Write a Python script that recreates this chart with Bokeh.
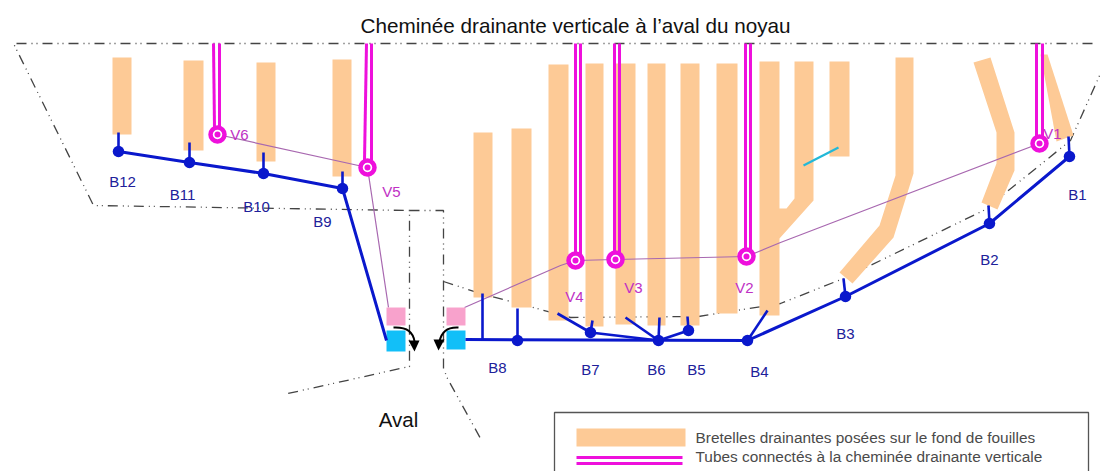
from bokeh.plotting import figure
from bokeh.embed import file_html
from bokeh.resources import INLINE
from bokeh.core.properties import value
from bokeh.models import Range1d

TITLE = "Cheminée drainante verticale à l’aval du noyau"
ORANGE = "#fdca96"
MAGENTA = "#ee10dc"
BLUE = "#0a18cc"
MAUVE = "#a868b0"
LABEL_BLUE = "#20209a"
LABEL_MAG = "#c030c4"
DD = "10 5 1 4 1 5"

# straight drains: x0, x1, top, bottom
bars_x0 = [112, 183, 256, 332, 473, 511, 548, 585, 615, 647, 680, 716, 829]
bars_x1 = [131, 203, 275, 351, 492, 531, 568, 603, 635, 665, 699, 737, 849]
bars_top = [57, 60, 62, 59, 132, 128, 64, 63, 63, 63, 63, 63, 61]
bars_bot = [134, 150, 161, 176, 297, 307, 320, 326, 324, 325, 325, 313, 156]

# bent drains
bent_x = [
    [759, 779, 779, 786, 794, 794, 813, 813, 779, 779, 759],
    [895, 913, 913, 893, 852, 839, 879, 895],
    [973, 990, 1014, 1014, 997, 981, 996, 996],
    [1040, 1047, 1073, 1056],
]
bent_y = [
    [61, 61, 208, 208, 198, 61, 61, 200, 238, 315, 315],
    [57, 57, 173, 237, 283, 272, 225, 175],
    [62, 57, 132, 170, 209, 202, 163, 132],
    [54, 54, 135, 141],
]

# tubes: left line top x, left bottom x, right x, bottom y, ring x, ring y
tube_l_top = [213, 366, 575, 614, 745, 1036]
tube_l_bot = [214, 364, 575, 614, 745, 1036]
tube_r = [219, 371, 580, 619, 750, 1042]
tube_bot = [128, 160, 254, 253, 250, 137]
ring_x = [217, 367, 575, 615, 746, 1039]
ring_y = [134, 167, 260, 259, 256, 143]

mauve_l_x = [217, 367, 388]
mauve_l_y = [134, 167, 307]
mauve_r_x = [464, 560, 575, 615, 746, 780, 1039]
mauve_r_y = [307, 265, 260, 259, 256, 242, 143]

# drains network
main_l_x = [118, 189, 263, 342, 386]
main_l_y = [151, 162, 173, 188, 340]
main_r_x = [465, 747, 845, 989, 1069]
main_r_y = [339, 340, 296, 223, 156]

stub_x0 = [118, 189, 263, 342, 482, 517, 590, 590, 590, 658, 658, 688, 658, 747, 845, 989, 1069]
stub_y0 = [151, 162, 173, 188, 340, 340, 332, 332, 332, 340, 340, 330, 340, 340, 296, 223, 156]
stub_x1 = [118, 189, 263, 342, 482, 517, 592, 557, 658, 659, 625, 687, 688, 767, 843, 988, 1068]
stub_y1 = [132, 142, 152, 171, 293, 308, 320, 313, 340, 317, 317, 316, 330, 310, 278, 205, 136]

node_x = [118, 189, 263, 342, 517, 590, 658, 688, 747, 845, 989, 1069]
node_y = [151, 162, 173, 188, 340, 332, 340, 330, 340, 296, 223, 156]

# dash-dotted outlines
out_x = [[1092, 13, 93, 409, 409, 283], [409, 443, 443, 447, 480],
         [443, 480, 570, 698, 780, 843, 983, 1070, 1100]]
out_y = [[43, 43, 205, 210, 366, 394], [210, 210, 368, 378, 438],
         [281, 293, 317, 316, 303, 278, 210, 140, 73]]

b_labels = ["B12", "B11", "B10", "B9", "B8", "B7", "B6", "B5", "B4", "B3", "B2", "B1"]
b_x = [122, 182, 256, 322, 497, 590, 656, 696, 759, 845, 989, 1077]
b_y = [181, 194, 206, 221, 367, 369, 369, 369, 371, 333, 259, 194]

v_labels = ["V6", "V5", "V4", "V3", "V2", "V1"]
v_x = [239, 391, 574, 633, 744, 1052]
v_y = [134, 191, 296, 287, 287, 133]

p = figure(width=1101, height=471, output_backend="svg", toolbar_location=None,
           x_range=Range1d(0, 1101), y_range=Range1d(471, 0),
           min_border=0, outline_line_color=None, background_fill_color="white")
p.axis.visible = False
p.grid.visible = False

# outlines
for xs, ys in zip(out_x, out_y):
    p.line(xs, ys, line_color="#444444", line_width=1.3, line_dash=DD)

# drains
p.quad(left=bars_x0, right=bars_x1, top=bars_top, bottom=bars_bot,
       fill_color=ORANGE, line_color=None)
p.patches(bent_x, bent_y, fill_color=ORANGE, line_color=None)

# cyan stroke
p.line([803, 838], [165, 147], line_color="#22b8d8", line_width=2.2)

# mauve link
p.line(mauve_l_x, mauve_l_y, line_color=MAUVE, line_width=1.2)
p.line(mauve_r_x, mauve_r_y, line_color=MAUVE, line_width=1.2)

# tubes
for a, b, c, d in zip(tube_l_top, tube_l_bot, tube_r, tube_bot):
    p.line([a, b], [43, d], line_color=MAGENTA, line_width=3)
    p.line([c, c], [43, d], line_color=MAGENTA, line_width=3)
p.scatter(ring_x, ring_y, size=14, marker="circle", fill_color="white",
          line_color=MAGENTA, line_width=4.5)
p.scatter(ring_x, ring_y, size=6, marker="circle", fill_color=MAGENTA, line_color=None)

# squares
p.quad(left=[386, 446], right=[405, 465], top=[307, 307], bottom=[325, 325],
       fill_color="#f8a2cc", line_color=None)
p.quad(left=[386, 446], right=[405, 465], top=[330, 330], bottom=[351, 349],
       fill_color="#12bff8", line_color=None)

# network
p.line(main_l_x, main_l_y, line_color=BLUE, line_width=3)
p.line(main_r_x, main_r_y, line_color=BLUE, line_width=3)
p.segment(stub_x0, stub_y0, stub_x1, stub_y1, line_color=BLUE, line_width=2.6)
p.scatter(node_x, node_y, size=11.5, marker="circle", fill_color=BLUE, line_color=None)

# arrows
p.quadratic(x0=[393, 458], y0=[327, 327], x1=[414, 439], y1=[341, 341],
            cx=[412, 442], cy=[326, 326], line_color="black", line_width=2)
p.patches([[408, 419, 414], [433, 444, 438]], [[340, 340, 351], [339, 339, 350]],
          fill_color="black", line_color=None)

# legend
p.line([554, 554, 1088, 1088], [472, 412, 412, 472], line_color="#555555", line_width=1.3)
p.quad(left=[576], right=[685], top=[428], bottom=[446], fill_color=ORANGE, line_color=None)
p.line([576, 682], [457, 457], line_color=MAGENTA, line_width=3)
p.line([576, 682], [463, 463], line_color=MAGENTA, line_width=3)

FONT = value("Liberation Sans")
p.text([695, 695], [437, 456],
       text=["Bretelles drainantes posées sur le fond de fouilles",
             "Tubes connectés à la cheminée drainante verticale"],
       text_font=FONT, text_font_size="15.4px", text_color="#4a4a4a",
       text_baseline="middle", text_align="left")
p.text([575], [25], text=[TITLE], text_font=FONT, text_font_size="20.7px",
       text_color="#111111", text_baseline="middle", text_align="center")
p.text([398], [419], text=["Aval"], text_font=FONT, text_font_size="20.5px",
       text_color="#111111", text_baseline="middle", text_align="center")
p.text(b_x, b_y, text=b_labels, text_font=FONT, text_font_size="15px",
       text_color=LABEL_BLUE, text_baseline="middle", text_align="center")
p.text(v_x, v_y, text=v_labels, text_font=FONT, text_font_size="15px",
       text_color=LABEL_MAG, text_baseline="middle", text_align="center")

open("out.html", "w").write(file_html(p, INLINE))
